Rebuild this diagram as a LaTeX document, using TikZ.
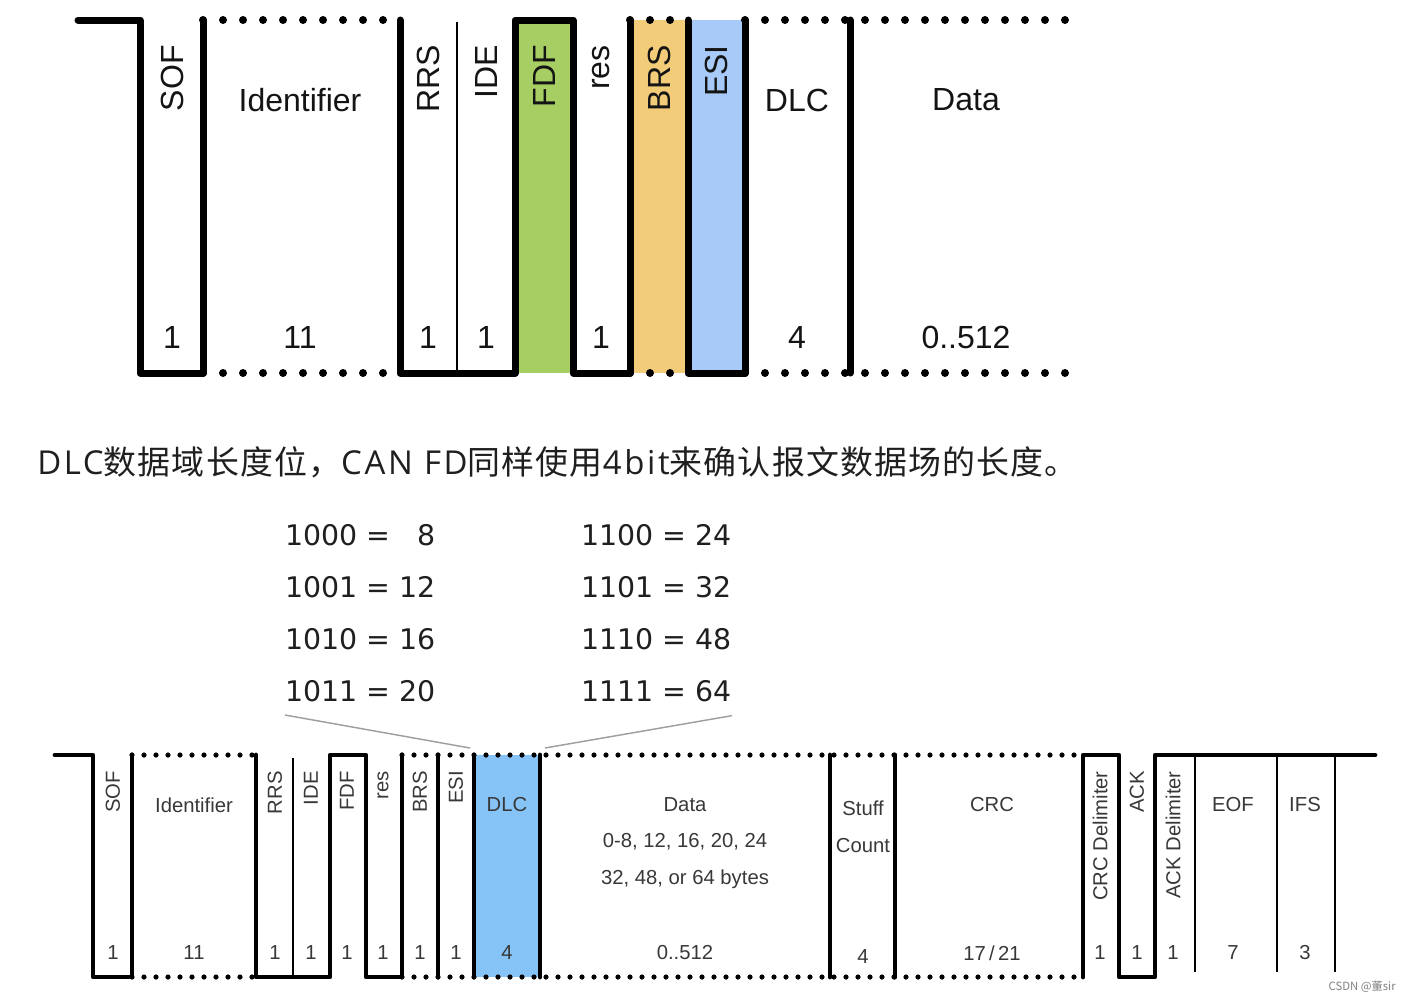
\documentclass[tikz,border=0pt]{standalone}
\usepackage{fontspec}
\setmainfont{Liberation Sans}
\newfontfamily\cjk{Noto Sans CJK SC}
\newfontfamily\cjknote[LetterSpace=3.5]{Noto Sans CJK SC}
\newfontfamily\cjklat[LetterSpace=8]{Open Sans}
\newfontfamily\verd{DejaVu Sans}
\usetikzlibrary{positioning}

\definecolor{fdfgreen}{RGB}{166,206,98}
\definecolor{brsorange}{RGB}{243,204,122}
\definecolor{esiblue}{RGB}{168,202,248}
\definecolor{dlcblue}{RGB}{134,195,247}

\begin{document}
\begin{tikzpicture}[x=0.75pt, y=-0.75pt,
  every node/.style={inner sep=0pt},
  hi/.style={line width=5.25pt, line join=round, line cap=round},
  hidot/.style={line width=6pt, line cap=round, dash pattern=on 0pt off 15pt},
  lo/.style={line width=3.6pt, line join=round, line cap=round},
  lodot/.style={line width=3.9pt, line cap=round, dash pattern=on 0pt off 9pt},
  hair/.style={line width=1.1pt},
  toptxt/.style={font=\fontsize{24}{28}\selectfont, text=black!92},
  topv/.style={toptxt, rotate=90, anchor=east},
  bottxt/.style={font=\fontsize{15.2}{18}\selectfont, text=black!78},
  botv/.style={bottxt, rotate=90, anchor=east},
  tab/.style={font=\verd\fontsize{21.3}{25}\selectfont, text=black!88, anchor=base west},
  link/.style={gray!75, line width=1.1pt}
]
\useasboundingbox (0,0) rectangle (1411,1001);

% upper frame
\fill[fdfgreen] (515,20) rectangle (573,373);
\fill[brsorange] (630,20) rectangle (688,373);
\fill[esiblue] (688,20) rectangle (745,373);
\draw[hidot] (203,20) -- (400,20) (203,373) -- (400,373);
\draw[hidot] (630,20) -- (688,20) (630,373) -- (688,373);
\draw[hidot] (745,20) -- (1070,20) (745,373) -- (1070,373);
\draw[hi] (78,20) -- (140,20) -- (140,373) -- (203,373) -- (203,20);
\draw[hi] (400,20) -- (400,373) -- (515,373) -- (515,20) -- (573,20) -- (573,373) -- (630,373) -- (630,20);
\draw[hi] (688,20) -- (688,373) -- (745,373) -- (745,20);
\draw[hi] (850,20) -- (850,373);
\draw[hair] (457,22) -- (457,373);

\foreach \x/\t/\n in {172/SOF/sof, 428/RRS/rrs, 486/IDE/ide, 544/FDF/fdf,
                      601/res/res, 659/BRS/brs, 716/ESI/esi}
  \node[topv] (\n) at (\x,45) {\t};
\node[toptxt] (idf) at (300,100) {Identifier};
\node[toptxt] (dlc) at (797,100) {DLC};
\node[toptxt] (data) at (966,100) {Data};
\foreach \x/\t/\n in {172/1/a, 300/11/b, 428/1/c, 486/1/d, 601/1/e, 797/4/f, 966/0..512/g}
  \node[toptxt] (n\n) at (\x,337) {\t};

% note
\node[anchor=west, font=\cjknote\fontsize{24.7}{28}\selectfont, text=black!88] (note) at (37,462)
  {{\cjklat DLC}数据域长度位，{\cjklat CAN FD}同样使用{\cjklat 4bit}来确认报文数据场的长度。};

% DLC table
\node[tab] (t1l) at (285,545) {1000 = \phantom{1}8};
\node[tab] (t2l) at (285,597) {1001 = 12};
\node[tab] (t3l) at (285,649) {1010 = 16};
\node[tab] (t4l) at (285,701) {1011 = 20};
\node[tab] (t1r) at (581,545) {1100 = 24};
\node[tab] (t2r) at (581,597) {1101 = 32};
\node[tab] (t3r) at (581,649) {1110 = 48};
\node[tab] (t4r) at (581,701) {1111 = 64};

% lower frame
\fill[dlcblue] (474,755) rectangle (540,977);
\draw[lodot] (132,755) -- (256,755) (132,977) -- (256,977);
\draw[lodot] (402,755) -- (1083,755) (402,977) -- (1083,977);
\draw[lo] (55,755) -- (93,755) -- (93,977) -- (132,977) -- (132,755);
\draw[lo] (256,755) -- (256,977) -- (330,977) -- (330,755) -- (366,755) -- (366,977) -- (402,977) -- (402,755);
\foreach \x in {438,474,540,830,895}
  \draw[lo] (\x,755) -- (\x,977);
\draw[lo] (1083,977) -- (1083,755) -- (1119,755) -- (1119,977) -- (1155,977) -- (1155,755) -- (1375,755);
\draw[hair] (293,758) -- (293,977);
\foreach \x in {1195,1277,1335}
  \draw[hair] (\x,755) -- (\x,972);

\coordinate (dlcl) at (470,748);
\coordinate (dlcr) at (545,748);
\draw[link] ([yshift=-10.5pt]t4l.base west) -- (dlcl);
\draw[link] ([yshift=-11pt]t4r.base east) -- (dlcr);

\foreach \x/\t/\n in {113/SOF/bsof, 275/RRS/brrs, 311/IDE/bide, 347/FDF/bfdf, 383/res/bres,
                      420/BRS/bbrs, 456/ESI/besi, 1100/CRC Delimiter/bcrcd, 1137/ACK/back,
                      1173/ACK Delimiter/backd}
  \node[botv] (\n) at (\x,771) {\t};
\node[bottxt] (bidf) at (194,805) {Identifier};
\node[bottxt] (bdlc) at (507,805) {DLC};
\node[bottxt] (bdata) at (685,805) {Data};
\node[bottxt] (bdl1) at (685,842) {0-8, 12, 16, 20, 24};
\node[bottxt] (bdl2) at (685,879) {32, 48, or 64 bytes};
\node[bottxt] (bstuff) at (863,808) {Stuff};
\node[bottxt] (bcount) at (863,846) {Count};
\node[bottxt] (bcrc) at (992,805) {CRC};
\node[bottxt] (beof) at (1233,805) {EOF};
\node[bottxt] (bifs) at (1305,805) {IFS};
\foreach \x/\t/\n in {113/1/a, 194/11/b, 275/1/c, 311/1/d, 347/1/e, 383/1/f, 420/1/g, 456/1/h,
                      507/4/i, 685/0..512/j, 1100/1/l, 1137/1/m, 1173/1/n,
                      1233/7/o, 1305/3/p}
  \node[bottxt] (m\n) at (\x,953) {\t};
\node[bottxt] (mk) at (992,953) {17\,/\,21};
\node[bottxt] (mstuff) at (863,957) {4};

\node[anchor=east, font=\cjk\fontsize{8.5}{10}\selectfont, text=gray] (mark) at (1396,987) {CSDN @董sir};
\end{tikzpicture}
\end{document}
